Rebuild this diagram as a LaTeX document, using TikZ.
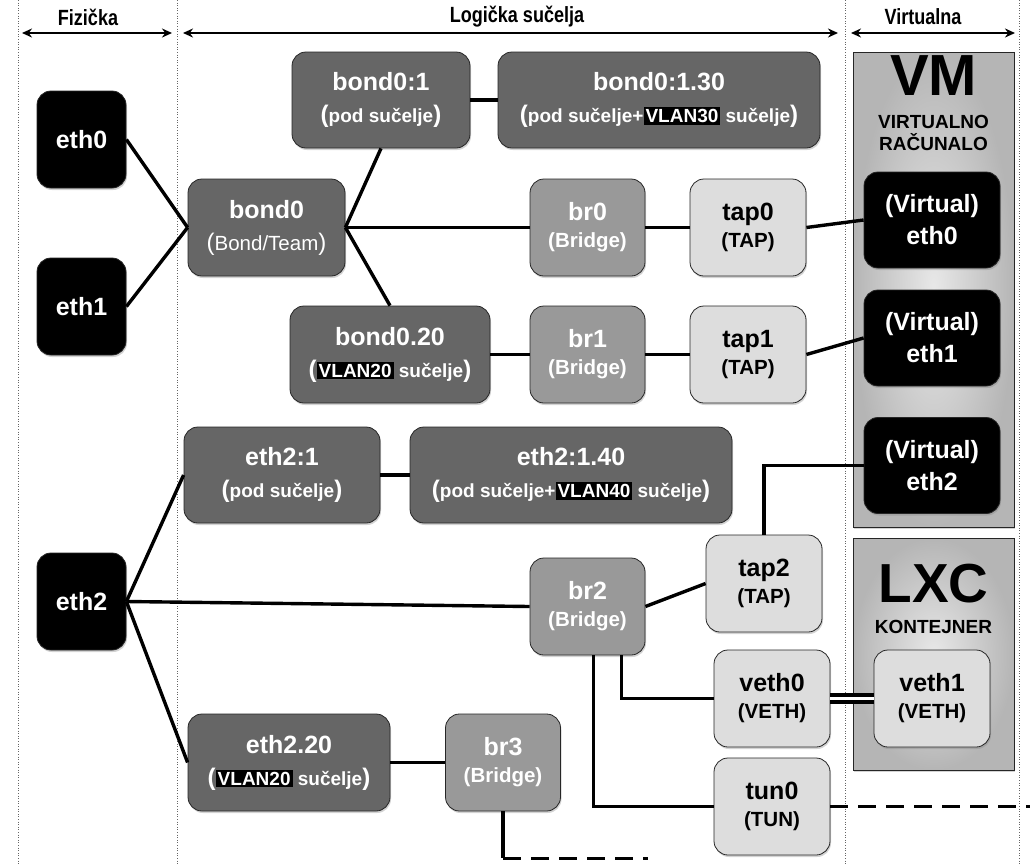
\documentclass[tikz,border=0pt]{standalone}
\usepackage{fontspec}
\setmainfont{Liberation Sans}
\newfontfamily\narrowfont[FakeStretch=0.82]{Liberation Sans}
\usetikzlibrary{arrows.meta, shadows}
\definecolor{LogicGray}{HTML}{666666}
\definecolor{BridgeGray}{HTML}{999999}
\definecolor{TapGray}{HTML}{DDDDDD}

\newcommand{\bigpar}[1]{{\fontsize{24}{24}\selectfont #1}}
\newcommand{\subtxt}[1]{\bigpar{(}{\fontsize{19}{24}\selectfont #1}\bigpar{)}}
\newcommand{\kind}[1]{{\fontsize{20.5}{24}\selectfont (#1)}}
\newcommand{\vlan}[1]{{\setlength{\fboxsep}{2pt}\colorbox{black}{#1}}}

\begin{document}
\begin{tikzpicture}[x=1pt, y=-1pt,
    every node/.style={font=\bfseries\fontsize{25}{32}\selectfont},
    box/.style={
      draw=black!85, line width=0.8pt, rounded corners=14pt,
      align=center, inner sep=0pt,
      drop shadow={shadow xshift=1pt, shadow yshift=-2pt, opacity=0.35}
    },
    phys/.style={box, fill=black, text=white, minimum width=89, minimum height=97},
    logic/.style={box, fill=LogicGray, text=white, minimum height=97},
    bridge/.style={box, fill=BridgeGray, text=white, minimum width=115, minimum height=97},
    tapbox/.style={box, fill=TapGray, text=black, minimum width=116, minimum height=97},
    virt/.style={box, fill=black, text=white, minimum width=136, minimum height=96},
    guest/.style={
      draw=black!85, line width=0.8pt, shade, inner color=gray!18, outer color=gray!58,
      minimum width=161, inner sep=0pt,
      drop shadow={shadow xshift=1pt, shadow yshift=-2pt, opacity=0.35}
    },
    header/.style={font=\narrowfont\bfseries\fontsize{22}{24}\selectfont},
    span/.style={line width=2.2pt, {Stealth[length=10pt,width=9pt]}-{Stealth[length=10pt,width=9pt]}},
    divider/.style={black!60, line width=0.6pt, dotted},
    wire/.style={line width=3.4pt},
    tunnel/.style={line width=3.4pt, dash pattern=on 18pt off 10pt},
    pair/.style={line width=4pt, double=white, double distance=3pt}
  ]
    \useasboundingbox (0,0) rectangle (1030,865);

    % column dividers
    \foreach \x in {18,177,845,1019}
      \draw[divider] (\x,0) -- (\x,865);

    % column headers
    \node[header] (hfiz) at (88,17) {Fizička};
    \node[header] (hlog) at (517,17) {Logička sučelja};
    \node[header] (hvirt) at (923,17) {Virtualna};
    \coordinate (fizl) at (22,33);   \coordinate (fizr) at (172,33);
    \coordinate (logl) at (183,33);  \coordinate (logr) at (838,33);
    \coordinate (virl) at (851,33);  \coordinate (virr) at (1015,33);
    \draw[span] (fizl) -- (fizr);
    \draw[span] (logl) -- (logr);
    \draw[span] (virl) -- (virr);

    % guest boxes
    \node[guest, minimum height=475] (vm) at (933.5,289.5) {};
    \node[guest, minimum height=232] (lxc) at (933.5,654) {};
    \node[anchor=base, font=\bfseries\fontsize{58}{60}\selectfont] (vmname) at (933.5,95) {VM};
    \node[anchor=base, align=center, font=\bfseries\fontsize{19}{22}\selectfont] (vmsub) at (933.5,150) {VIRTUALNO\\RAČUNALO};
    \node[anchor=base, font=\bfseries\fontsize{55}{58}\selectfont] (lxcname) at (933.5,602) {LXC};
    \node[anchor=base, font=\bfseries\fontsize{19}{22}\selectfont] (lxcsub) at (933.5,633) {KONTEJNER};

    % physical
    \node[phys] (eth0) at (81.5,139.5) {eth0};
    \node[phys] (eth1) at (81.5,306.5) {eth1};
    \node[phys] (eth2) at (81.5,601.5) {eth2};

    % logical
    \node[logic, minimum width=157] (bond0) at (266.5,227.5) {bond0\\{\mdseries\bigpar{(}{\fontsize{20.5}{24}\selectfont Bond/Team}\bigpar{)}}};
    \node[logic, minimum width=178, minimum height=96] (b01) at (381,100) {bond0:1\\\subtxt{pod sučelje}};
    \node[logic, minimum width=322, minimum height=96] (b0130) at (659,100) {bond0:1.30\\\subtxt{pod sučelje+\vlan{VLAN30} sučelje}};
    \node[bridge] (br0) at (587.5,227.5) {br0\\[-5pt]\kind{Bridge}};
    \node[tapbox] (tap0) at (748,227.5) {tap0\\[-5pt]\kind{TAP}};
    \node[logic, minimum width=200] (b020) at (390,354.5) {bond0.20\\\subtxt{\vlan{VLAN20} sučelje}};
    \node[bridge] (br1) at (587.5,354.5) {br1\\[-5pt]\kind{Bridge}};
    \node[tapbox] (tap1) at (748,354.5) {tap1\\[-5pt]\kind{TAP}};
    \node[logic, minimum width=196, minimum height=96] (e21) at (282,475) {eth2:1\\\subtxt{pod sučelje}};
    \node[logic, minimum width=322, minimum height=96] (e2140) at (571,475) {eth2:1.40\\\subtxt{pod sučelje+\vlan{VLAN40} sučelje}};
    \node[bridge] (br2) at (587.5,606.5) {br2\\[-5pt]\kind{Bridge}};
    \node[tapbox] (tap2) at (764,583.5) {tap2\\[-5pt]\kind{TAP}};
    \node[tapbox] (veth0) at (772,698.5) {veth0\\[-5pt]\kind{VETH}};
    \node[tapbox] (tun0) at (772,806.5) {tun0\\[-5pt]\kind{TUN}};
    \node[logic, minimum width=202] (e220) at (289,762.5) {eth2.20\\\subtxt{\vlan{VLAN20} sučelje}};
    \node[bridge] (br3) at (503,762.5) {br3\\[-5pt]\kind{Bridge}};

    % virtual
    \node[virt] (v0) at (932,220) {(Virtual)\\eth0};
    \node[virt] (v1) at (932,338) {(Virtual)\\eth1};
    \node[virt] (v2) at (932,465.5) {(Virtual)\\eth2};
    \node[tapbox] (veth1) at (932,698.5) {veth1\\[-5pt]\kind{VETH}};

    % connections
    \draw[wire] (eth0.east) -- (bond0.west);
    \draw[wire] (eth1.east) -- (bond0.west);
    \draw[wire] (bond0.east) -- (b01.south);
    \draw[wire] (bond0.east) -- (b020.north);
    \draw[wire] (bond0.east) -- (br0.west);
    \draw[wire] (b01.east) -- (b0130.west);
    \draw[wire] (br0.east) -- (tap0.west);
    \draw[wire] (tap0.east) -- (v0.west);
    \draw[wire] (b020.east) -- (br1.west);
    \draw[wire] (br1.east) -- (tap1.west);
    \draw[wire] (tap1.east) -- (v1.west);
    \draw[wire] (eth2.east) -- (e21.west);
    \draw[wire] (eth2.east) -- (br2.west);
    \draw[wire] (eth2.east) -- (e220.west);
    \draw[wire] (e21.east) -- (e2140.west);
    \draw[wire] (br2.east) -- (tap2.west);
    \draw[wire] (tap2.north) |- (v2.west);
    \draw[wire] ([xshift=34pt]br2.south) |- (veth0.west);
    \draw[wire] ([xshift=6pt]br2.south) |- (tun0.west);
    \draw[pair] (veth0.east) -- (veth1.west);
    \draw[wire] (e220.east) -- (br3.west);

    % tunnels out
    \coordinate (tunend) at (1030,806.5);
    \draw[tunnel] (tun0.east) -- (tunend);
    \draw[wire] (br3.south) -- ++(0,47) coordinate (b3knee);
    \draw[tunnel] (b3knee) -- ++(145,0);
\end{tikzpicture}
\end{document}
